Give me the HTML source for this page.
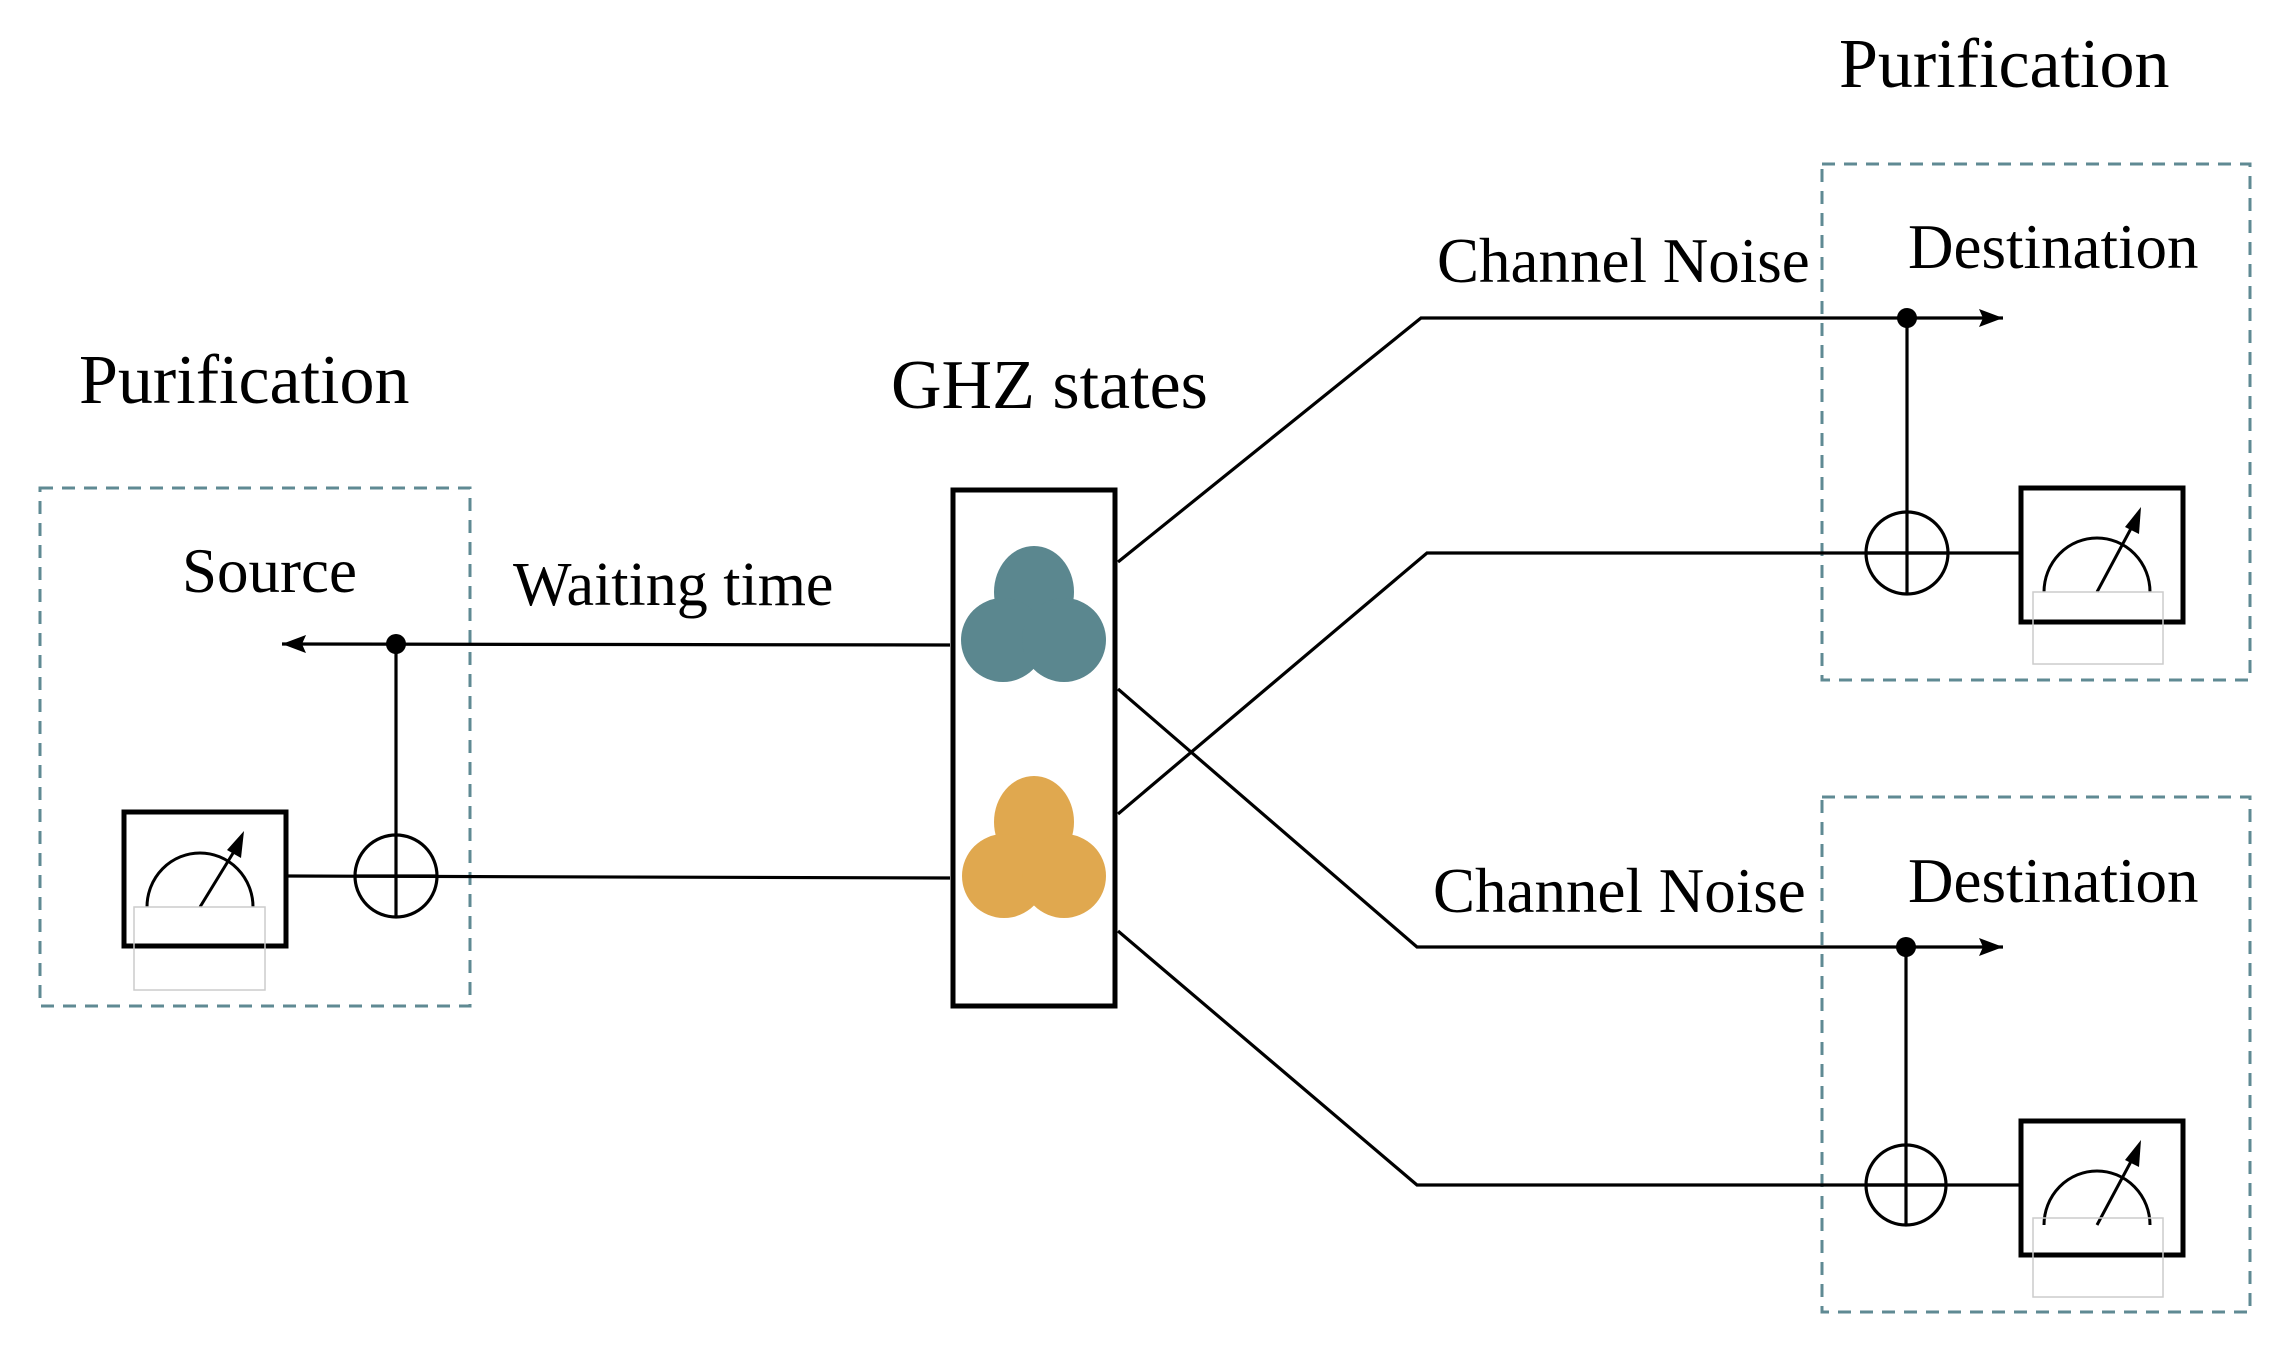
<!DOCTYPE html>
<html><head><meta charset="utf-8"><style>
html,body{margin:0;padding:0;background:#fff}
svg{display:block}
text{font-family:"Liberation Serif",serif;fill:#000}
</style></head><body>
<svg width="2288" height="1352" viewBox="0 0 2288 1352" xmlns="http://www.w3.org/2000/svg">
<defs>
<marker id="al" viewBox="0 0 24 18" markerWidth="24" markerHeight="18" refX="24" refY="9" orient="auto" markerUnits="userSpaceOnUse">
<path d="M0,0 L24,9 L0,18 L4,9 Z" fill="#000"/></marker>
</defs>
<g fill="none" stroke="#5f8a93" stroke-width="3" stroke-dasharray="13 9">
<rect x="40" y="488" width="430" height="518"/>
<rect x="1822" y="164" width="428" height="516"/>
<rect x="1822" y="797" width="428" height="515"/>
</g>
<text x="79" y="403" font-size="70">Purification</text>
<text x="1839" y="87" font-size="70">Purification</text>
<text x="891" y="408" font-size="70">GHZ states</text>
<text x="182" y="592" font-size="63">Source</text>
<text x="513" y="605" font-size="62">Waiting time</text>
<text x="1437" y="282" font-size="63">Channel Noise</text>
<text x="1433" y="912" font-size="63">Channel Noise</text>
<text x="1908" y="268" font-size="63">Destination</text>
<text x="1908" y="902" font-size="63">Destination</text>
<g stroke="#000" stroke-width="3.2" fill="none">
<line x1="950" y1="645" x2="282" y2="644" marker-end="url(#al)"/>
<line x1="396" y1="644" x2="396" y2="917"/>
<line x1="950" y1="878" x2="286" y2="876"/>
<circle cx="396" cy="876" r="41"/>
<line x1="355" y1="876" x2="437" y2="876"/>
<polyline points="1118,562 1421,318 2003,318" marker-end="url(#al)"/>
<polyline points="1118,689 1417,947 2003,947" marker-end="url(#al)"/>
<polyline points="1118,814 1427,553 2021,553"/>
<polyline points="1118,931 1417,1185 2021,1185"/>
<line x1="1907" y1="318" x2="1907" y2="595"/>
<circle cx="1907" cy="553" r="41"/>
<line x1="1866" y1="553" x2="1948" y2="553"/>
<line x1="1906" y1="947" x2="1906" y2="1225"/>
<circle cx="1906" cy="1185" r="40"/>
<line x1="1866" y1="1185" x2="1946" y2="1185"/>
</g>
<circle cx="396" cy="644" r="10"/>
<circle cx="1907" cy="318" r="10"/>
<circle cx="1906" cy="947" r="10"/>
<g>
<rect x="124" y="812" width="162" height="134" fill="#fff" stroke="#000" stroke-width="5"/>
<path d="M147,907 A53,54 0 0 1 253,907" fill="none" stroke="#000" stroke-width="3"/>
<line x1="200" y1="907" x2="238" y2="845" stroke="#000" stroke-width="3"/>
<path d="M244,831 L241,858 L227,850 Z" fill="#000"/>
<rect x="134" y="907" width="131" height="83" fill="none" stroke="#ccc" stroke-width="1.5"/>
</g>
<g transform="translate(1897,-324)">
<rect x="124" y="812" width="162" height="134" fill="#fff" stroke="#000" stroke-width="5"/>
<path d="M147,916 A53,54 0 0 1 253,916" fill="none" stroke="#000" stroke-width="3"/>
<line x1="200" y1="916" x2="238" y2="845" stroke="#000" stroke-width="3"/>
<path d="M244,831 L242,858 L228,851 Z" fill="#000"/>
<rect x="136" y="916" width="130" height="72" fill="none" stroke="#ccc" stroke-width="1.5"/>
</g>
<g transform="translate(1897,309)">
<rect x="124" y="812" width="162" height="134" fill="#fff" stroke="#000" stroke-width="5"/>
<path d="M147,916 A53,54 0 0 1 253,916" fill="none" stroke="#000" stroke-width="3"/>
<line x1="200" y1="916" x2="238" y2="845" stroke="#000" stroke-width="3"/>
<path d="M244,831 L242,858 L228,851 Z" fill="#000"/>
<rect x="136" y="909" width="130" height="79" fill="none" stroke="#ccc" stroke-width="1.5"/>
</g>
<rect x="953" y="490" width="162" height="516" fill="#fff" stroke="#000" stroke-width="5"/>
<g fill="#5b878f">
<ellipse cx="1034" cy="592" rx="40" ry="46"/>
<circle cx="1003" cy="640" r="42"/>
<circle cx="1064" cy="640" r="42"/>
</g>
<g fill="#e0a84f">
<ellipse cx="1034" cy="822" rx="40" ry="46"/>
<circle cx="1004" cy="876" r="42"/>
<circle cx="1064" cy="876" r="42"/>
</g>
</svg>
</body></html>
